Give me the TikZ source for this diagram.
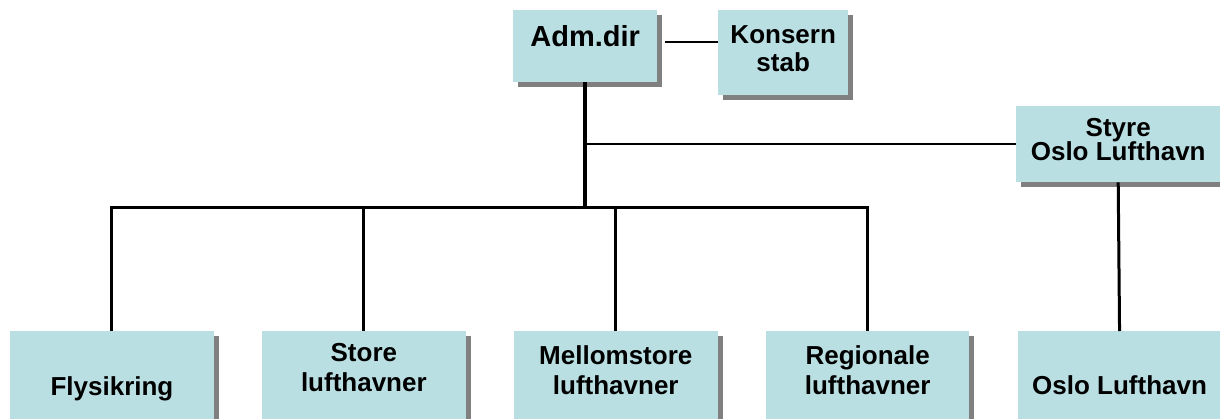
\documentclass[tikz,border=0pt]{standalone}
\usepackage{fontspec}
\setmainfont{Liberation Sans}
\usetikzlibrary{positioning,shadows}
\definecolor{boxblue}{RGB}{186,223,226}
\definecolor{shadowgray}{RGB}{128,128,128}

\begin{document}
\begin{tikzpicture}[x=1pt,y=-1pt,
  orgbox/.style={rectangle,fill=boxblue,inner sep=0pt,
    general shadow={fill=shadowgray,shadow xshift=5pt,shadow yshift=-5pt}},
  unitbox/.style={orgbox,minimum width=203.5pt,minimum height=110pt},
  orgtext/.style={inner sep=0pt,align=center,
    font=\fontsize{26}{30}\selectfont\bfseries},
  thinline/.style={line width=1.5pt},
  busline/.style={line width=3.5pt,line cap=rect},
  dropline/.style={line width=3pt}]
\useasboundingbox (0,0) rectangle (1220,418);

% top level
\node [orgbox,anchor=north west,minimum width=144pt,minimum height=72pt] (adm) at (513,10) {};
\node [orgtext,font=\fontsize{29}{33}\selectfont\bfseries,below=15pt of adm.north] (adm-t) {Adm.dir};
\node [orgbox,anchor=north west,minimum width=130pt,minimum height=85pt] (konsern) at (718,10) {};
\node [orgtext,below=15pt of konsern.north] (konsern-t) {Konsern\\[-2pt]stab};
\node [orgbox,anchor=north west,minimum width=204pt,minimum height=76pt] (styre) at (1016,106) {};
\node [orgtext,below=12pt of styre.north] (styre-t) {Styre\\[-6pt]Oslo Lufthavn};

% units
\node [unitbox,anchor=north west] (fly) at (10,331) {};
\node [unitbox,right=48pt of fly] (store) {};
\node [unitbox,right=48pt of store] (mello) {};
\node [unitbox,right=48pt of mello] (region) {};
\node [unitbox,right=48pt of region] (osl) {};

\node [orgtext,below=45pt of fly.north] (fly-t) {Flysikring};
\node [orgtext,below=12pt of store.north] (store-t) {Store\\lufthavner};
\node [orgtext,below=14pt of mello.north] (mello-t) {Mellomstore\\lufthavner};
\node [orgtext,below=14pt of region.north] (region-t) {Regionale\\lufthavner};
\node [orgtext,below=44pt of osl.north] (osl-t) {Oslo Lufthavn};

% lines
\coordinate (ak) at ([xshift=8pt,yshift=4pt]adm.east);
\draw [thinline] (ak) -- (ak -| konsern.west);
\coordinate (hub) at ([yshift=-125pt]adm.south);
\coordinate (sj) at (adm.south |- styre.west);
\draw [thinline] (sj) -- (styre.west);
\draw [busline,line cap=butt] (adm.south) -- (hub);
\draw [busline] (fly.north |- hub) -- (region.north |- hub);
\foreach \u in {fly,store,mello,region}
  \draw [dropline] (\u.north |- hub) -- (\u.north);
\draw [dropline] (styre.south) -- (osl.north);
\end{tikzpicture}
\end{document}
